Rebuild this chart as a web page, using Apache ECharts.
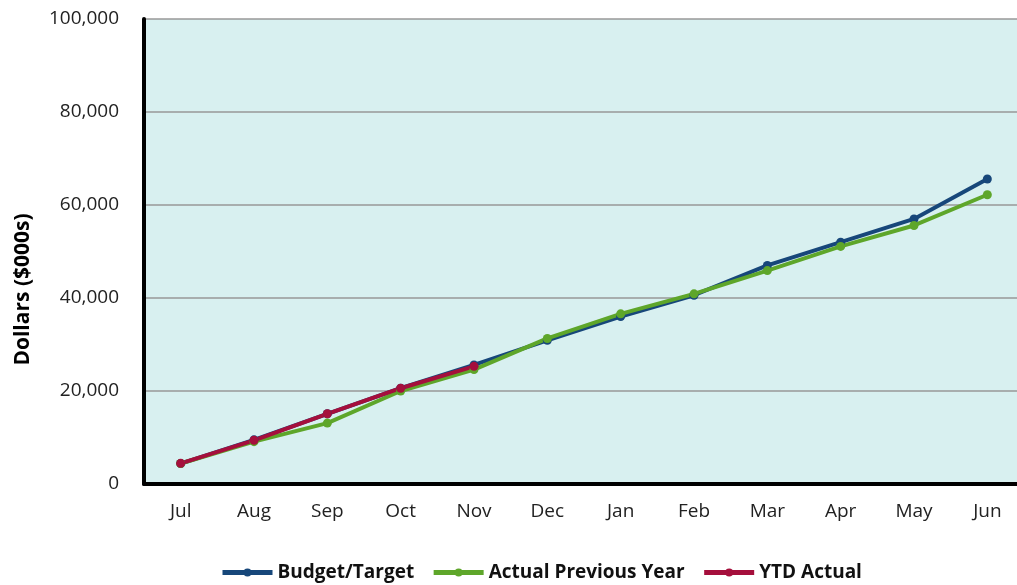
<!DOCTYPE html>
<html>
<head>
<meta charset="utf-8">
<script src="https://cdn.jsdelivr.net/npm/echarts@6/dist/echarts.min.js"></script>
<style>html,body{margin:0;padding:0;background:#fff}#c{width:1017px;height:585px}</style>
</head>
<body>
<div id="c"></div>
<script>
const months = ['Jul','Aug','Sep','Oct','Nov','Dec','Jan','Feb','Mar','Apr','May','Jun'];
const budgetTarget = [4400, 9500, 15100, 20600, 25600, 30900, 36000, 40600, 47000, 52000, 57000, 65600];
const actualPrevYear = [4400, 9100, 13100, 20000, 24600, 31300, 36600, 40900, 45900, 51100, 55600, 62200];
const ytdActual = [4450, 9400, 15100, 20600, 25300];
const yTicks = {min: 0, max: 100000, interval: 20000};

const FONT = '"Open Sans",sans-serif';
const chart = echarts.init(document.getElementById('c'), null, {renderer: 'canvas'});
function mk(name, data, color) {
  return {
    name, type: 'line', data,
    symbol: 'circle', symbolSize: 9,
    lineStyle: {color, width: 4},
    itemStyle: {color},
    animation: false
  };
}
chart.setOption({
  animation: false,
  grid: {left: 144, top: 19, bottom: 101, width: 880, outerBoundsMode: 'none', containLabel: false,
    show: true, backgroundColor: '#D8F0F0', borderWidth: 0},
  legend: {
    top: 558, left: 215,
    itemWidth: 50, itemHeight: 10, itemGap: 17,
    lineStyle: {width: 5},
    textStyle: {fontFamily: FONT, fontWeight: 'bold', fontSize: 19, color: '#111'},
    data: ['Budget/Target', 'Actual Previous Year', 'YTD Actual']
  },
  xAxis: {
    type: 'category', data: months, boundaryGap: true,
    axisLine: {lineStyle: {color: '#000', width: 4}},
    axisTick: {show: false},
    axisLabel: {fontFamily: FONT, fontSize: 19, color: '#222', margin: 18}
  },
  yAxis: {
    type: 'value', min: yTicks.min, max: yTicks.max, interval: yTicks.interval,
    name: 'Dollars ($000s)', nameLocation: 'middle', nameGap: 110, nameRotate: 90,
    nameTextStyle: {fontFamily: FONT, fontWeight: 'bold', fontSize: 21, color: '#000', padding: [0, 76, 0, 0]},
    axisLine: {show: true, lineStyle: {color: '#000', width: 4}},
    axisTick: {show: false},
    axisLabel: {fontFamily: FONT, fontSize: 19, color: '#222', margin: 25,
      formatter: v => v.toLocaleString('en-US')},
    splitLine: {lineStyle: {color: '#999', width: 1.5}}
  },
  series: [
    mk('Budget/Target', budgetTarget, '#17477A'),
    mk('Actual Previous Year', actualPrevYear, '#5EA62A'),
    mk('YTD Actual', ytdActual, '#A50F3C')
  ]
});
</script>
</body>
</html>
